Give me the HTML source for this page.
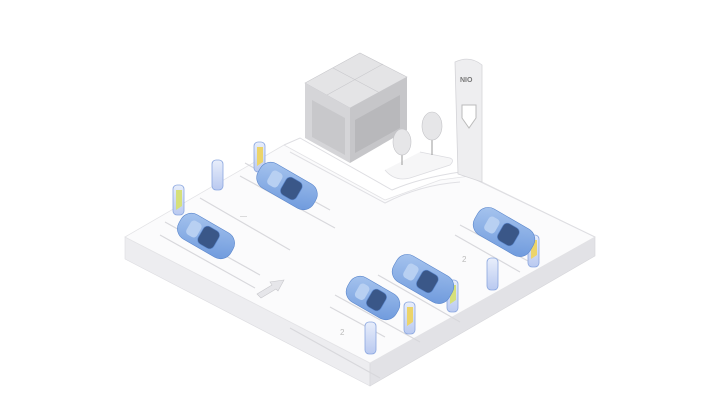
<!DOCTYPE html>
<html><head><meta charset="utf-8"><style>
html,body{margin:0;padding:0;background:#fff;width:720px;height:405px;overflow:hidden}
</style></head><body>
<svg width="720" height="405" viewBox="0 0 720 405" xmlns="http://www.w3.org/2000/svg">
<defs>
<linearGradient id="car" x1="0" y1="0" x2="1" y2="1"><stop offset="0" stop-color="#a9c6ef"/><stop offset="1" stop-color="#6c98dc"/></linearGradient>
<linearGradient id="chg" x1="0" y1="0" x2="0" y2="1"><stop offset="0" stop-color="#e8eefb"/><stop offset="1" stop-color="#b9c9f0"/></linearGradient>
</defs>
<!-- platform sides -->
<polygon points="125,237 370,363 370,386 125,259" fill="#ededf0" stroke="#dcdce0" stroke-width="0.6"/>
<polygon points="370,363 595,237 595,256 370,386" fill="#e2e2e6" stroke="#d6d6da" stroke-width="0.6"/>
<!-- top -->
<polygon points="125,237 284,145 385,200 440,180 470,176 595,237 370,363" fill="#fbfbfc" stroke="#e3e3e6" stroke-width="0.8"/>
<!-- walkway -->
<path d="M284,145 L300,138 L392,190 Q420,178 460,172 L595,237" fill="none" stroke="#dedee2" stroke-width="1"/>
<path d="M290,152 L385,203 Q420,185 460,182" fill="none" stroke="#e0e0e4" stroke-width="1"/>
<path d="M385,170 Q395,182 410,178 L450,165 Q455,160 450,158 L420,152" fill="#f6f6f7" stroke="#dcdce0" stroke-width="0.8"/>
<!-- building -->
<polygon points="305,83 360,53 407,77 350,108" fill="#e4e4e6" stroke="#c8c8cc" stroke-width="0.6"/>
<line x1="333" y1="68" x2="380" y2="93" stroke="#c8c8cc" stroke-width="0.6"/>
<line x1="327" y1="95" x2="383" y2="64" stroke="#c8c8cc" stroke-width="0.6"/>
<polygon points="305,83 350,108 350,163 305,138" fill="#d5d5d8"/>
<polygon points="350,108 407,77 407,130 350,163" fill="#c6c6c9"/>
<polygon points="312,100 345,118 345,155 312,137" fill="#c8c8cb"/>
<polygon points="355,120 400,95 400,128 355,153" fill="#b8b8bb"/>
<!-- trees -->
<line x1="402" y1="150" x2="402" y2="165" stroke="#999" stroke-width="1"/>
<ellipse cx="402" cy="142" rx="9" ry="13" fill="#e6e6e8" stroke="#c4c4c8" stroke-width="0.6"/>
<line x1="432" y1="135" x2="432" y2="155" stroke="#999" stroke-width="1"/>
<ellipse cx="432" cy="126" rx="10" ry="14" fill="#e6e6e8" stroke="#c4c4c8" stroke-width="0.6"/>
<!-- totem -->
<path d="M455,62 Q470,55 482,65 L482,182 L458,174 Z" fill="#eeeef0" stroke="#d4d4d8" stroke-width="0.8"/>
<text x="460" y="82" font-family="Liberation Sans, sans-serif" font-size="7" font-weight="bold" fill="#777">NIO</text>
<path d="M462,105 L476,105 L476,118 L469,128 L462,118 Z" fill="#fff" stroke="#bbb" stroke-width="1"/>
<!-- parking lines -->
<g stroke="#d8d8dc" stroke-width="1.2" fill="none">
<path d="M160,235 L255,288"/><path d="M165,222 L260,275"/>
<path d="M200,198 L290,250"/><path d="M240,176 L335,228"/><path d="M245,163 L330,210"/>
<path d="M290,328 L380,378"/><path d="M330,307 L385,337"/><path d="M335,295 L420,342"/>
<path d="M378,275 L460,322"/><path d="M455,235 L520,272"/><path d="M460,225 L530,262"/>
</g>
<text x="240" y="218" font-family="Liberation Sans, sans-serif" font-size="7" fill="#bbb">—</text>
<text x="340" y="335" font-family="Liberation Sans, sans-serif" font-size="8" fill="#bbb">2</text>
<text x="462" y="262" font-family="Liberation Sans, sans-serif" font-size="8" fill="#bbb">2</text>
<!-- arrow -->
<polygon points="257,294 272,285 270,282 284,280 278,291 276,289 261,298" fill="#e6e6ea" stroke="#c8c8cc" stroke-width="0.6"/>
<!-- chargers -->
<g>
<rect x="173" y="185" width="11" height="30" rx="4" fill="url(#chg)" stroke="#8aa6df" stroke-width="0.8"/><path d="M176,190 L182,190 L182,206 L176,210Z" fill="#d6e07a"/>
<rect x="212" y="160" width="11" height="30" rx="4" fill="url(#chg)" stroke="#8aa6df" stroke-width="0.8"/>
<rect x="254" y="142" width="11" height="30" rx="4" fill="url(#chg)" stroke="#8aa6df" stroke-width="0.8"/><path d="M257,147 L263,147 L263,162 L257,166Z" fill="#ecd46a"/>
<rect x="365" y="322" width="11" height="32" rx="4" fill="url(#chg)" stroke="#8aa6df" stroke-width="0.8"/>
<rect x="404" y="302" width="11" height="32" rx="4" fill="url(#chg)" stroke="#8aa6df" stroke-width="0.8"/><path d="M407,307 L413,307 L413,322 L407,326Z" fill="#ecd46a"/>
<rect x="447" y="280" width="11" height="32" rx="4" fill="url(#chg)" stroke="#8aa6df" stroke-width="0.8"/><path d="M450,285 L456,285 L456,300 L450,304Z" fill="#d6e07a"/>
<rect x="487" y="258" width="11" height="32" rx="4" fill="url(#chg)" stroke="#8aa6df" stroke-width="0.8"/>
<rect x="528" y="235" width="11" height="32" rx="4" fill="url(#chg)" stroke="#8aa6df" stroke-width="0.8"/><path d="M531,240 L537,240 L537,255 L531,259Z" fill="#ecd46a"/>
</g>
<!-- cars -->
<g stroke="#5a86cc" stroke-width="0.6">
<g transform="translate(206,236) rotate(30)"><rect x="-30" y="-14" width="60" height="28" rx="12" fill="url(#car)"/><rect x="-6" y="-10" width="18" height="20" rx="5" fill="#3a5788"/><rect x="-20" y="-8" width="12" height="16" rx="4" fill="#b8d0f2" stroke="none"/></g>
<g transform="translate(287,186) rotate(30)"><rect x="-32" y="-14" width="64" height="28" rx="12" fill="url(#car)"/><rect x="-4" y="-10" width="18" height="20" rx="5" fill="#3a5788"/><rect x="-20" y="-8" width="12" height="16" rx="4" fill="#b8d0f2" stroke="none"/></g>
<g transform="translate(504,232) rotate(30)"><rect x="-32" y="-15" width="64" height="30" rx="12" fill="url(#car)"/><rect x="-4" y="-10" width="18" height="20" rx="5" fill="#3a5788"/><rect x="-20" y="-8" width="12" height="16" rx="4" fill="#b8d0f2" stroke="none"/></g>
<g transform="translate(423,279) rotate(30)"><rect x="-32" y="-15" width="64" height="30" rx="12" fill="url(#car)"/><rect x="-4" y="-10" width="18" height="20" rx="5" fill="#3a5788"/><rect x="-20" y="-8" width="12" height="16" rx="4" fill="#b8d0f2" stroke="none"/></g>
<g transform="translate(373,298) rotate(30)"><rect x="-28" y="-14" width="56" height="28" rx="12" fill="url(#car)"/><rect x="-4" y="-10" width="16" height="20" rx="5" fill="#3a5788"/><rect x="-18" y="-8" width="11" height="16" rx="4" fill="#b8d0f2" stroke="none"/></g>
</g>
</svg>
</body></html>
